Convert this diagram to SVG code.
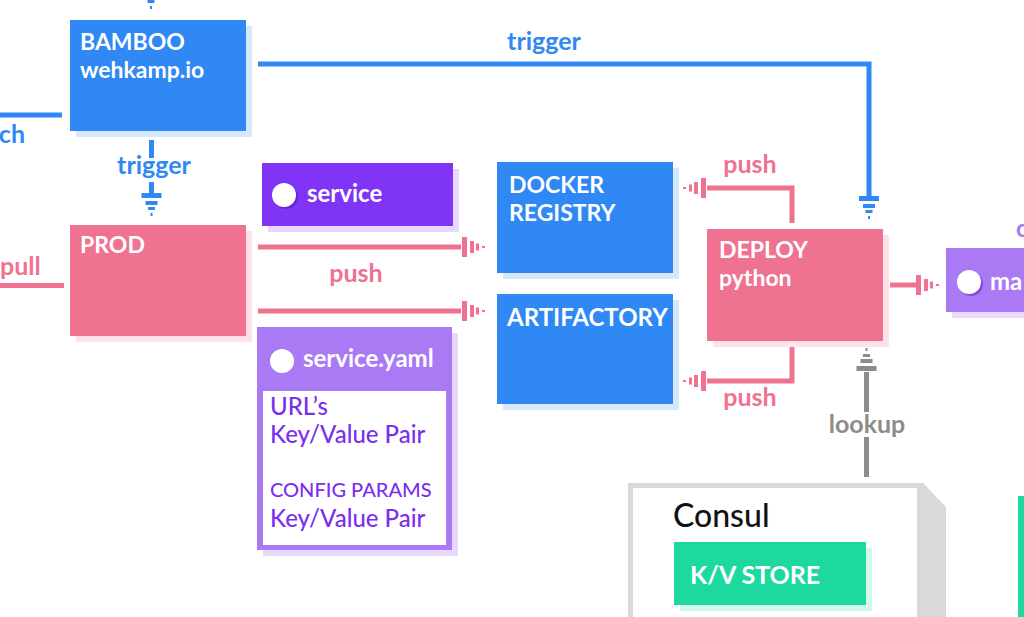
<svg xmlns="http://www.w3.org/2000/svg" width="1024" height="617" viewBox="0 0 1024 617">
<style>
text{font-family:Lato,"Open Sans","Liberation Sans",sans-serif;font-weight:bold}
.wt{fill:#ffffff;font-size:23px}
.blue{fill:#2f88f4}.bsh{fill:#d6e8fd}
.pink{fill:#f07291}.psh{fill:#fde2e9}
.dpur{fill:#8034f6}.lpur{fill:#aa7af5}.usha{fill:#e6d9fd}
.green{fill:#1dd9a0}.gsh{fill:#d3f7eb}
.lb{fill:#2f88f4;font-size:25px}.lp{fill:#f07291;font-size:25px}.lg{fill:#8c8c8c;font-size:25px}
.ln{fill:none;stroke-width:5}
.yt{fill:#7b2ff0;font-weight:500;font-size:24px}
</style>
<defs>
<g id="tip">
<rect x="0" y="-10" width="5" height="20"/>
<rect x="8" y="-6" width="4" height="12"/>
<rect x="14" y="-3.5" width="3" height="7"/>
<rect x="20" y="-1" width="3" height="2"/>
</g>
</defs>

<g id="connectors">
<use href="#tip" fill="#2f88f4" transform="translate(151,-14) rotate(90)"/>
<path class="ln" stroke="#2f88f4" d="M0,115H62"/>
<text class="lb" x="25" y="143" text-anchor="end">ch</text>
<path class="ln" stroke="#2f88f4" d="M258,64H869V196"/>
<use href="#tip" fill="#2f88f4" transform="translate(869,196) rotate(90)"/>
<text class="lb" x="544" y="50" text-anchor="middle">trigger</text>
<path class="ln" stroke="#2f88f4" d="M151.5,140V158M151.5,182V193"/>
<use href="#tip" fill="#2f88f4" transform="translate(151.5,193) rotate(90)"/>
<text class="lb" x="154" y="174" text-anchor="middle">trigger</text>
<path class="ln" stroke="#f07291" d="M0,285.5H64"/>
<text class="lp" x="0" y="275">pull</text>
<path class="ln" stroke="#f07291" d="M258,247H461M258,311H461"/>
<use href="#tip" fill="#f07291" transform="translate(462,247)"/>
<use href="#tip" fill="#f07291" transform="translate(462,311)"/>
<text class="lp" x="356" y="282" text-anchor="middle">push</text>
<path class="ln" stroke="#f07291" d="M792,223V188H707M792,346V381H707"/>
<use href="#tip" fill="#f07291" transform="translate(706,188) rotate(180)"/>
<use href="#tip" fill="#f07291" transform="translate(706,381) rotate(180)"/>
<text class="lp" x="750" y="173" text-anchor="middle">push</text>
<text class="lp" x="750" y="406" text-anchor="middle">push</text>
<path class="ln" stroke="#f07291" d="M890,285H916"/>
<use href="#tip" fill="#f07291" transform="translate(916,285)"/>
<path class="ln" stroke="#8c8c8c" d="M866.5,372V412M866.5,437V477"/>
<use href="#tip" fill="#8c8c8c" transform="translate(866.5,371) rotate(-90)"/>
<text class="lg" x="867" y="433" text-anchor="middle">lookup</text>
<text x="1016" y="237" fill="#aa7af5" font-size="24">c</text>
</g>

<g id="bamboo">
<rect class="bsh" x="76" y="26" width="176" height="111"/>
<rect class="blue" x="70" y="20" width="176" height="111"/>
<text class="wt" x="80" y="50">BAMBOO</text>
<text class="wt" x="80" y="78">wehkamp.io</text>
</g>

<g id="prod">
<rect class="psh" x="76" y="231" width="176" height="111"/>
<rect class="pink" x="70" y="225" width="176" height="111"/>
<text class="wt" x="80" y="253">PROD</text>
</g>

<g id="service">
<rect class="usha" x="268" y="169" width="191" height="63"/>
<rect class="dpur" x="262" y="163" width="191" height="63"/>
<circle cx="286" cy="197" r="12" fill="#5a1fb8" opacity="0.6"/>
<circle cx="284" cy="195" r="12" fill="#ffffff"/>
<text class="wt" x="307" y="202" style="font-size:24px">service</text>
</g>

<g id="service-yaml">
<rect class="usha" x="263" y="333" width="195" height="223"/>
<rect class="lpur" x="257" y="327" width="195" height="223"/>
<rect x="263" y="391" width="183" height="154" fill="#ffffff"/>
<circle cx="282" cy="361" r="12" fill="#ffffff"/>
<text class="wt" x="303" y="367" style="font-size:24px">service.yaml</text>
<text class="yt" x="270" y="415">URL’s</text>
<text class="yt" x="270" y="443">Key/Value Pair</text>
<text class="yt" x="270" y="497" style="font-size:20px">CONFIG PARAMS</text>
<text class="yt" x="270" y="527">Key/Value Pair</text>
</g>

<g id="docker">
<rect class="bsh" x="503" y="168" width="176" height="111"/>
<rect class="blue" x="497" y="162" width="176" height="111"/>
<text class="wt" x="509" y="193">DOCKER</text>
<text class="wt" x="509" y="221">REGISTRY</text>
</g>

<g id="artifactory">
<rect class="bsh" x="503" y="300" width="176" height="110"/>
<rect class="blue" x="497" y="294" width="176" height="110"/>
<text class="wt" x="507" y="326" style="font-size:24px">ARTIFACTORY</text>
</g>

<g id="deploy">
<rect class="psh" x="713" y="235" width="176" height="112"/>
<rect class="pink" x="707" y="229" width="176" height="112"/>
<text class="wt" x="719" y="258">DEPLOY</text>
<text class="wt" x="719" y="286">python</text>
</g>

<g id="ma">
<rect class="usha" x="952" y="254" width="80" height="64"/>
<rect class="lpur" x="946" y="248" width="90" height="64"/>
<circle cx="971" cy="284" r="12" fill="#5a1fb8" opacity="0.5"/>
<circle cx="969" cy="282" r="12" fill="#ffffff"/>
<text class="wt" x="990" y="290" style="font-size:24px">ma</text>
</g>

<g id="consul">
<polygon points="628,483 923,483 946,507 946,617 628,617" fill="#d9d9d9"/>
<rect x="633" y="488" width="284" height="140" fill="#ffffff"/>
<text x="673" y="527" fill="#111111" font-size="32" style="font-weight:500">Consul</text>
<rect class="gsh" x="680" y="548" width="192" height="63"/>
<rect class="green" x="674" y="542" width="192" height="63"/>
<text class="wt" x="690" y="584" style="font-size:25px">K/V STORE</text>
</g>

<g id="right-green">
<rect class="green" x="1018" y="496" width="20" height="130"/>
</g>
</svg>
